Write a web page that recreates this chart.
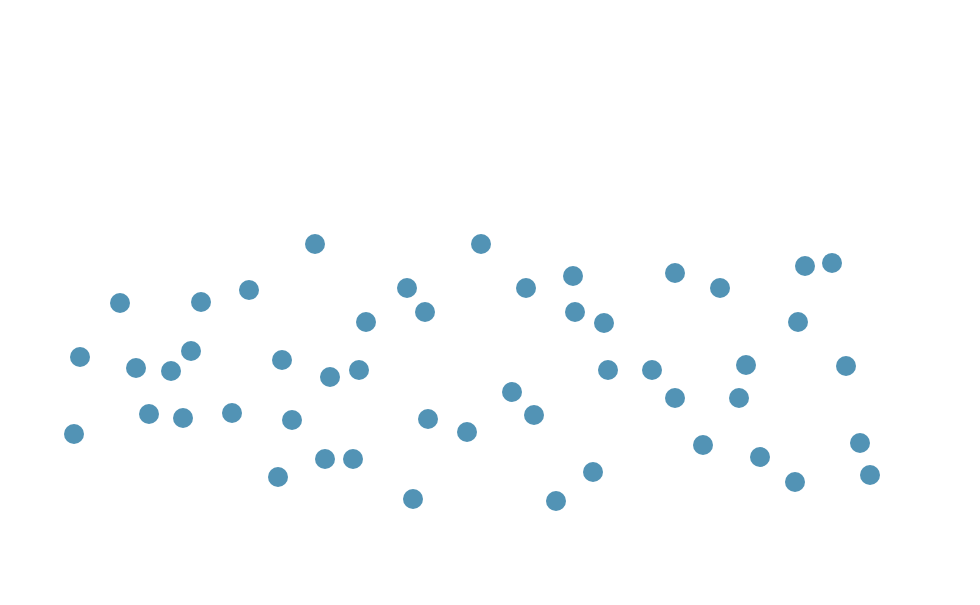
<!DOCTYPE html>
<html>
<head>
<meta charset="utf-8">
<script src="https://cdn.jsdelivr.net/npm/d3@7"></script>
<style>
  html, body { margin: 0; padding: 0; background: #fff; }
</style>
</head>
<body>
<div id="wrapper"></div>
<script>
// x values (0 - 98) and y values (0 - 60.5, bottom up)
let xValues = [
  7.4, 8.0, 12.0, 13.6, 14.9, 17.1, 18.3, 19.1, 20.1, 23.2,
  24.9, 27.8, 28.2, 29.2, 31.5, 32.5, 33.0, 35.3, 35.9, 36.6,
  40.7, 41.3, 42.5, 42.8, 46.7, 48.1, 51.2, 52.6, 53.4, 55.6,
  57.3, 57.5, 59.3, 60.4, 60.8, 65.2, 67.5, 67.5, 70.3, 72.0,
  73.9, 74.6, 76.0, 79.5, 79.8, 80.5, 83.2, 84.6, 86.0, 87.0
];
let yValues = [
  17.1, 24.8, 30.2, 23.7, 19.1, 23.4, 18.7, 25.4, 30.3, 19.2,
  31.5, 12.8, 24.5, 18.5, 36.1, 14.6, 22.8, 14.6, 23.5, 28.3,
  31.7, 10.6, 29.3, 18.6, 17.3, 36.1, 21.3, 31.7, 19.0, 10.4,
  32.9, 29.3, 13.3, 28.2, 23.5, 23.5, 33.2, 20.7, 16.0, 31.7,
  20.7, 24.0, 14.8, 12.3, 28.3, 33.9, 34.2, 23.9, 16.2, 13.0
];

let dataSet = xValues.map((x, i) => ({ x: x, y: yValues[i] }));

let dimensions = {
  width: 980,
  height: 605
};

let wrapper = d3
  .select("#wrapper")
  .append("svg")
  .attr("width", dimensions.width)
  .attr("height", dimensions.height);

let xScale = d3
  .scaleLinear()
  .domain([0, 98])
  .range([0, dimensions.width]);

let yScale = d3
  .scaleLinear()
  .domain([0, 60.5])
  .range([dimensions.height, 0]);

wrapper
  .selectAll("circle")
  .data(dataSet)
  .join("circle")
  .attr("cx", d => xScale(d.x))
  .attr("cy", d => yScale(d.y))
  .attr("r", 10)
  .style("fill", "#5293b5");
</script>
</body>
</html>
